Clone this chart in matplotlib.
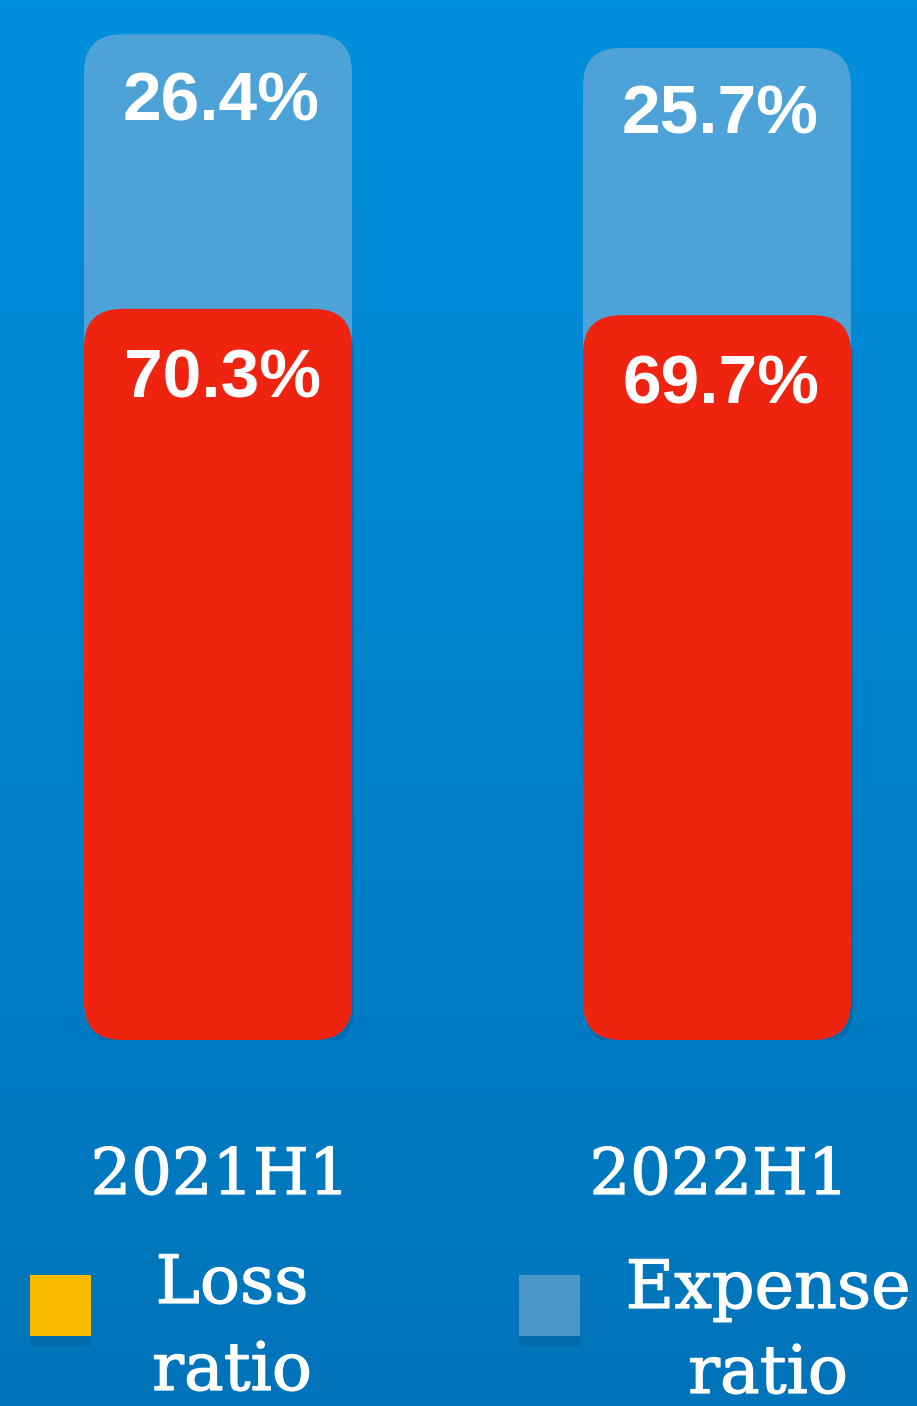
import numpy as np
import matplotlib
matplotlib.use('Agg')
import matplotlib.pyplot as plt
import matplotlib.patheffects as pe
from matplotlib.patches import FancyBboxPatch, Rectangle

categories = ['2021H1', '2022H1']
loss_ratio = [70.3, 69.7]
expense_ratio = [26.4, 25.7]
legend_labels = ['Loss ratio', 'Expense ratio']
legend_colors = ['#F9BA00', '#4A97C7']

RED = '#EE2310'
LIGHT = '#4DA3D8'
SERIF = 'DejaVu Serif'
BOLDEN = [pe.withStroke(linewidth=0.9, foreground='white')]

W, H = 917, 1406
DPI = 100
fig = plt.figure(figsize=(W / DPI, H / DPI), dpi=DPI)

# gradient background
bg = fig.add_axes([0, 0, 1, 1], zorder=0)
top = np.array([0, 143, 222]) / 255
bot = np.array([0, 116, 186]) / 255
t = np.linspace(0, 1, 256)[:, None, None]
grad = (1 - t) * top + t * bot
bg.imshow(grad, aspect='auto', extent=[0, 1, 0, 1], origin='upper')
bg.axis('off')

# main axes: pixel mapping
px_y = 10.4          # px per percentage point
y0_px = 1040         # pixel row of zero line
c0_px, c1_px = 218, 717
px_x = c1_px - c0_px
ax = fig.add_axes([0, (H - y0_px) / H, 1, y0_px / H], zorder=1)
ax.set_facecolor('none')
ax.set_xlim(-c0_px / px_x, (W - c0_px) / px_x)
ax.set_ylim(0, y0_px / px_y)
ax.axis('off')

x = np.arange(len(categories))
width = 268 / px_x
totals = [l + e for l, e in zip(loss_ratio, expense_ratio)]

exp_bars = ax.bar(x, expense_ratio, width, bottom=loss_ratio, color='none')
loss_bars = ax.bar(x, loss_ratio, width, color='none')

r_px = 38
aspect = px_x / px_y


def rounded(x0, y0, w, h, color, z, alpha=1.0):
    p = FancyBboxPatch((x0, y0), w, h,
                       boxstyle=f"round,pad=0,rounding_size={r_px / px_x}",
                       mutation_aspect=aspect, facecolor=color, edgecolor='none',
                       zorder=z, alpha=alpha)
    ax.add_patch(p)
    return p


for rect in exp_bars:
    x0, w = rect.get_x(), rect.get_width()
    topv = rect.get_y() + rect.get_height()
    rounded(x0, 0, w, topv, LIGHT, 2)
    rect.set_visible(False)

for rect in loss_bars:
    x0, w, h = rect.get_x(), rect.get_width(), rect.get_height()
    # soft shadow
    rounded(x0 + 2 / px_x, -6 / px_y, w, h, '#003f73', 2.5, alpha=0.25)
    rounded(x0, 0, w, h, RED, 3)
    rect.set_visible(False)

for xi, l, e, tot in zip(x, loss_ratio, expense_ratio, totals):
    ax.annotate(f'{e:.1f}%', xy=(xi, tot), xytext=(2, -49), textcoords='offset points',
                ha='center', va='center', fontsize=50, fontweight='bold',
                color='white', family='Liberation Sans', zorder=5)
    ax.annotate(f'{l:.1f}%', xy=(xi, l), xytext=(3, -51), textcoords='offset points',
                ha='center', va='center', fontsize=50, fontweight='bold',
                color='white', family='Liberation Sans', zorder=5)

for xi, cat in zip(x, categories):
    ax.text(xi + 2 / px_x, -(1194 - y0_px) / px_y, cat, ha='center', va='baseline',
            fontsize=46, family=SERIF, color='white', clip_on=False,
            path_effects=BOLDEN)

# legend
sq_x = [30, 519]
txt_x = [232, 768]
line1_base = [1303, 1308]
line2_base = [1390, 1393]
for sx, tx, b1, b2, lab, col in zip(sq_x, txt_x, line1_base, line2_base, legend_labels, legend_colors):
    fig.add_artist(Rectangle((sx / W, 1 - 1346 / H), 61 / W, 10 / H, transform=fig.transFigure,
                             facecolor='#00609f', edgecolor='none', alpha=0.5, zorder=2))
    fig.add_artist(Rectangle((sx / W, 1 - 1336 / H), 61 / W, 61 / H, transform=fig.transFigure,
                             facecolor=col, edgecolor='none', zorder=3))
    w1, w2 = lab.split(' ')
    fig.text(tx / W, 1 - b1 / H, w1, ha='center', va='baseline', fontsize=48,
             family=SERIF, color='white', zorder=4, path_effects=BOLDEN)
    fig.text(tx / W, 1 - b2 / H, w2, ha='center', va='baseline', fontsize=48,
             family=SERIF, color='white', zorder=4, path_effects=BOLDEN)

fig.savefig('out.png', dpi=DPI)
